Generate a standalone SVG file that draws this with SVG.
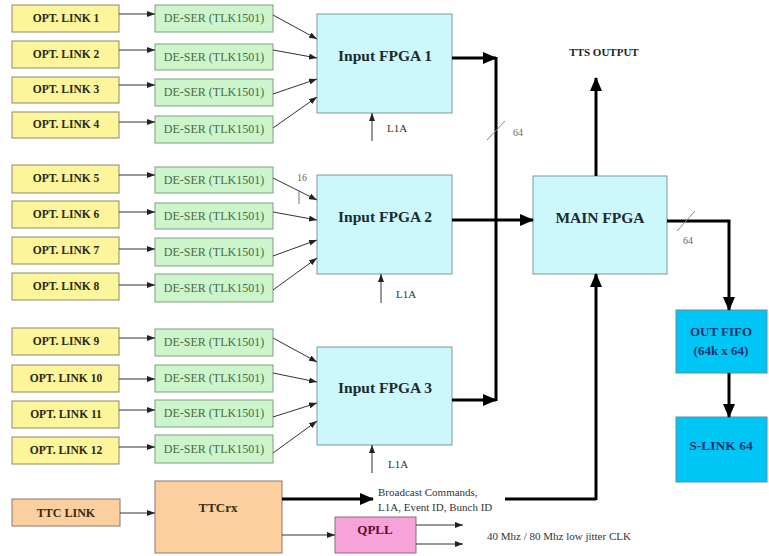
<svg xmlns="http://www.w3.org/2000/svg" width="769" height="556" viewBox="0 0 769 556" font-family="'Liberation Serif','Times New Roman','DejaVu Serif',serif">
<defs>
<marker id="ah" viewBox="0 0 8 6" refX="8" refY="3" markerWidth="8" markerHeight="6" markerUnits="userSpaceOnUse" orient="auto"><path d="M0,0 L8,3 L0,6 z" fill="#222"/></marker>
<marker id="AH" viewBox="0 0 14 12" refX="13" refY="6" markerWidth="14" markerHeight="12" markerUnits="userSpaceOnUse" orient="auto"><path d="M0,0 L14,6 L0,12 z" fill="#000"/></marker>
</defs>
<style>
text{font-family:'Liberation Serif','Times New Roman','DejaVu Serif',serif}
.opt{fill:#fdf59c;stroke:#8a8a6a;stroke-width:1}
.des{fill:#ccf5cc;stroke:#7f9f7f;stroke-width:1}
.fpga{fill:#ccf7fb;stroke:#7f9a9a;stroke-width:1}
.out{fill:#00c6f5;stroke:#5a8fa8;stroke-width:1}
.ttc{fill:#fbcf9f;stroke:#8a7a6a;stroke-width:1}
.qpll{fill:#f5a3d9;stroke:#8a6a7a;stroke-width:1}
.tb{font-weight:bold;text-anchor:middle}
.topt{font-size:11.5px;fill:#2a2a10}
.tdes{font-size:12px;fill:#4a6a4a;text-anchor:middle}
.tf{font-size:15.5px;fill:#1a2a30}
.tsm{font-size:11px;fill:#333}
.tg{font-size:10px;fill:#666}
.thin{stroke:#333;stroke-width:1;fill:none;marker-end:url(#ah)}
.thick{stroke:#000;stroke-width:3;fill:none}
.thicka{stroke:#000;stroke-width:3;fill:none;marker-end:url(#AH)}
</style>

<g id="opt1"><rect class="opt" x="12" y="5" width="107" height="27"/><text class="tb topt" x="66" y="22">OPT. LINK 1</text></g>
<g id="opt2"><rect class="opt" x="12" y="41" width="107" height="27"/><text class="tb topt" x="66" y="58">OPT. LINK 2</text></g>
<g id="opt3"><rect class="opt" x="12" y="77" width="107" height="26"/><text class="tb topt" x="66" y="93">OPT. LINK 3</text></g>
<g id="opt4"><rect class="opt" x="12" y="112" width="107" height="26"/><text class="tb topt" x="66" y="128">OPT. LINK 4</text></g>
<g id="opt5"><rect class="opt" x="12" y="165" width="107" height="28"/><text class="tb topt" x="66" y="182">OPT. LINK 5</text></g>
<g id="opt6"><rect class="opt" x="12" y="201" width="107" height="27"/><text class="tb topt" x="66" y="218">OPT. LINK 6</text></g>
<g id="opt7"><rect class="opt" x="12" y="237" width="107" height="27"/><text class="tb topt" x="66" y="254">OPT. LINK 7</text></g>
<g id="opt8"><rect class="opt" x="12" y="273" width="107" height="27"/><text class="tb topt" x="66" y="290">OPT. LINK 8</text></g>
<g id="opt9"><rect class="opt" x="12" y="328" width="107" height="27"/><text class="tb topt" x="66" y="345">OPT. LINK 9</text></g>
<g id="opt10"><rect class="opt" x="12" y="365" width="107" height="27"/><text class="tb topt" x="66" y="382">OPT. LINK 10</text></g>
<g id="opt11"><rect class="opt" x="12" y="401" width="107" height="27"/><text class="tb topt" x="66" y="418">OPT. LINK 11</text></g>
<g id="opt12"><rect class="opt" x="12" y="437" width="107" height="27"/><text class="tb topt" x="66" y="454">OPT. LINK 12</text></g>

<g id="des1"><rect class="des" x="155" y="5" width="118" height="27"/><text class="tdes" x="214" y="22">DE-SER (TLK1501)</text></g>
<g id="des2"><rect class="des" x="155" y="44" width="118" height="26"/><text class="tdes" x="214" y="61">DE-SER (TLK1501)</text></g>
<g id="des3"><rect class="des" x="155" y="79" width="118" height="27"/><text class="tdes" x="214" y="96">DE-SER (TLK1501)</text></g>
<g id="des4"><rect class="des" x="155" y="116" width="118" height="27"/><text class="tdes" x="214" y="133">DE-SER (TLK1501)</text></g>
<g id="des5"><rect class="des" x="155" y="167" width="118" height="26"/><text class="tdes" x="214" y="184">DE-SER (TLK1501)</text></g>
<g id="des6"><rect class="des" x="155" y="203" width="118" height="26"/><text class="tdes" x="214" y="220">DE-SER (TLK1501)</text></g>
<g id="des7"><rect class="des" x="155" y="238" width="118" height="28"/><text class="tdes" x="214" y="256">DE-SER (TLK1501)</text></g>
<g id="des8"><rect class="des" x="155" y="274" width="118" height="28"/><text class="tdes" x="214" y="292">DE-SER (TLK1501)</text></g>
<g id="des9"><rect class="des" x="155" y="329" width="118" height="27"/><text class="tdes" x="214" y="346">DE-SER (TLK1501)</text></g>
<g id="des10"><rect class="des" x="155" y="365" width="118" height="27"/><text class="tdes" x="214" y="382">DE-SER (TLK1501)</text></g>
<g id="des11"><rect class="des" x="155" y="400" width="118" height="27"/><text class="tdes" x="214" y="417">DE-SER (TLK1501)</text></g>
<g id="des12"><rect class="des" x="155" y="435" width="118" height="28"/><text class="tdes" x="214" y="453">DE-SER (TLK1501)</text></g>

<g id="fpga1"><rect class="fpga" x="317" y="14" width="135" height="99"/><text class="tb tf" x="385" y="61">Input FPGA 1</text></g>
<g id="fpga2"><rect class="fpga" x="317" y="175" width="135" height="99"/><text class="tb tf" x="385" y="222">Input FPGA 2</text></g>
<g id="fpga3"><rect class="fpga" x="317" y="347" width="135" height="98"/><text class="tb tf" x="385" y="393">Input FPGA 3</text></g>
<g id="main"><rect class="fpga" x="533" y="176" width="134" height="98"/><text class="tb tf" x="600" y="223">MAIN FPGA</text></g>
<g id="fifo"><rect class="out" x="676" y="310" width="91" height="63"/><text class="tb" x="721" y="336" font-size="13" fill="#1a3070">OUT FIFO</text><text class="tb" x="721" y="355" font-size="13" fill="#1a3070">(64k x 64)</text></g>
<g id="slink"><rect class="out" x="676" y="417" width="91" height="65"/><text class="tb" x="721" y="450" font-size="13.5" fill="#1a3070">S-LINK 64</text></g>
<g id="ttclink"><rect class="ttc" x="12" y="499" width="108" height="27"/><text class="tb" x="66" y="517" font-size="12" fill="#3a2a10">TTC LINK</text></g>
<g id="ttcrx"><rect class="ttc" x="155" y="481" width="127" height="72"/><text class="tb" x="218" y="512" font-size="13" fill="#3a2a10">TTCrx</text></g>
<g id="qpll"><rect class="qpll" x="335" y="517" width="81" height="36"/><text class="tb" x="375" y="534" font-size="13" fill="#5a1030">QPLL</text></g>

<g id="labels">
<text class="tb" x="604" y="56" font-size="11" fill="#222">TTS OUTPUT</text>
<text class="tsm" x="387" y="132">L1A</text>
<text class="tsm" x="396" y="298">L1A</text>
<text class="tsm" x="388" y="468">L1A</text>
<text class="tg" x="513" y="136">64</text>
<text class="tg" x="683" y="244">64</text>
<text class="tg" x="297" y="181">16</text>
<text class="tsm" x="378" y="496">Broadcast Commands,</text>
<text class="tsm" x="378" y="511">L1A, Event ID, Bunch ID</text>
<text class="tsm" x="487" y="540">40 Mhz / 80 Mhz low jitter CLK</text>
</g>

<g id="connectors">
<path class="thin" d="M119,14 H155"/>
<path class="thin" d="M119,50 H155"/>
<path class="thin" d="M119,85 H155"/>
<path class="thin" d="M119,122 H155"/>
<path class="thin" d="M119,175 H155"/>
<path class="thin" d="M119,212 H155"/>
<path class="thin" d="M119,249 H155"/>
<path class="thin" d="M119,285 H155"/>
<path class="thin" d="M119,338 H155"/>
<path class="thin" d="M119,379 H155"/>
<path class="thin" d="M119,410 H155"/>
<path class="thin" d="M119,447 H155"/>

<path class="thin" d="M273,15 L317,39"/>
<path class="thin" d="M273,50 L317,58"/>
<path class="thin" d="M273,94 L317,79"/>
<path class="thin" d="M273,128 L317,97"/>
<path class="thin" d="M273,178 L317,200"/>
<path class="thin" d="M273,212 L317,220"/>
<path class="thin" d="M273,256 L317,240"/>
<path class="thin" d="M273,290 L317,258"/>
<path class="thin" d="M273,338 L317,362"/>
<path class="thin" d="M273,373 L317,382"/>
<path class="thin" d="M273,417 L317,403"/>
<path class="thin" d="M273,453 L317,421"/>

<path class="thin" d="M372,141 V113"/>
<path class="thin" d="M381,303 V274"/>
<path class="thin" d="M372,473 V445"/>
<path d="M299,190 V204" stroke="#777" stroke-width="1"/>

<path class="thicka" d="M452,58 H496"/>
<path class="thicka" d="M452,400 H496"/>
<path class="thick" d="M496,57 V401"/>
<path class="thicka" d="M452,220 H533"/>
<path d="M487,140 L505,121" stroke="#888" stroke-width="1"/>

<path class="thicka" d="M596,176 V78"/>
<path class="thick" d="M667,221 H729 V300"/>
<path class="thicka" d="M729,298 V310"/>
<path d="M677,231 L695,211" stroke="#888" stroke-width="1"/>
<path class="thicka" d="M729,373 V417"/>

<path class="thin" d="M120,513 H155"/>
<path class="thicka" d="M282,499 H373"/>
<path class="thick" d="M505,499 H596"/>
<path class="thicka" d="M596,500 V274"/>
<path class="thin" d="M282,535 H335"/>
<path class="thin" d="M416,525 H463"/>
<path class="thin" d="M416,544 H463"/>
</g>
</svg>
